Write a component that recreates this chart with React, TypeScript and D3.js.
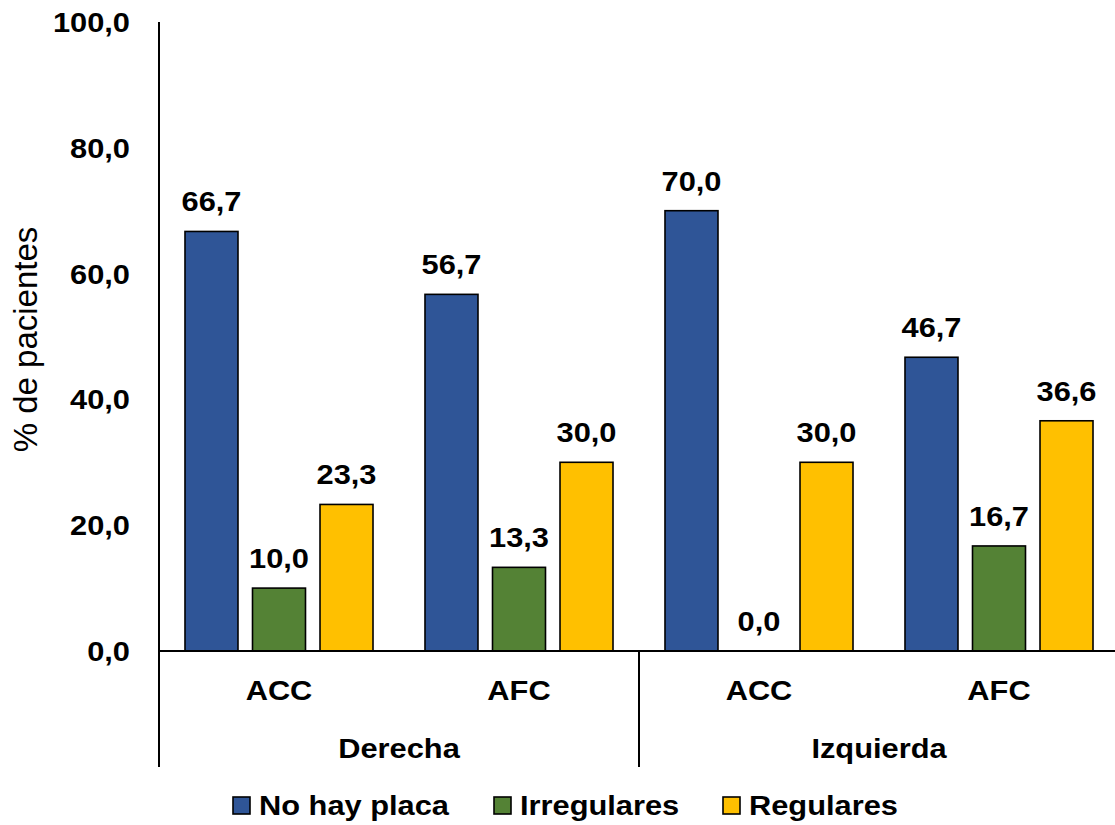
import React from "react";
import * as d3 from "d3";

// Chart data
const groups = ["Derecha", "Izquierda"];
const sites = ["ACC", "AFC"];
const seriesNames = ["No hay placa", "Irregulares", "Regulares"];
const noHayPlaca = [66.7, 56.7, 70.0, 46.7];
const irregulares = [10.0, 13.3, 0.0, 16.7];
const regulares = [23.3, 30.0, 30.0, 36.6];
const yTicks = [0, 20, 40, 60, 80, 100];

const seriesValues = [noHayPlaca, irregulares, regulares];
const colors = ["#2F5597", "#548235", "#FFC000"];

const W = 1115;
const H = 825;
const left = 159;
const right = 1119;
const top = 22;
const baseY = 651;
const bottomLine = 767;
const FONT = "Arial, 'Liberation Sans', sans-serif";
const SX = 1.1;

const fmt = (v: number) => v.toFixed(1).replace(".", ",");

function BText({ x, y, anchor = "middle", children }: { x: number; y: number; anchor?: string; children: React.ReactNode }) {
  return (
    <text
      transform={`translate(${x},${y}) scale(${SX},1)`}
      textAnchor={anchor as any}
      fontFamily={FONT}
      fontWeight="bold"
      fontSize={28}
      fill="#000"
    >
      {children}
    </text>
  );
}

export default function App() {
  const cats = groups.flatMap((g) => sites.map((s) => `${g}|${s}`));
  const x0 = d3.scaleBand<string>().domain(cats).range([left, right]).padding(0);
  const x1 = d3
    .scaleBand<string>()
    .domain(seriesNames)
    .range([0, x0.bandwidth()])
    .paddingInner(0.215)
    .paddingOuter(0.385);
  const y = d3.scaleLinear().domain([0, 100]).range([baseY, top]);
  const groupWidth = x0.bandwidth() * sites.length;

  const legendX = [233, 494, 723];

  return (
    <svg width={W} height={H} style={{ position: "absolute", left: 0, top: 0, background: "#fff" }}>
      {/* bars and value labels */}
      {cats.map((c, ci) => (
        <g key={c} transform={`translate(${x0(c)},0)`}>
          {seriesNames.map((s, si) => {
            const v = seriesValues[si][ci];
            const bx = x1(s)!;
            return (
              <g key={s}>
                {v > 0 && (
                  <rect
                    x={bx}
                    y={y(v)}
                    width={x1.bandwidth()}
                    height={baseY - y(v)}
                    fill={colors[si]}
                    stroke="#000"
                    strokeWidth={1.6}
                  />
                )}
                <BText x={bx + x1.bandwidth() / 2} y={y(v) - 20}>
                  {fmt(v)}
                </BText>
              </g>
            );
          })}
          <BText x={x0.bandwidth() / 2} y={700}>
            {c.split("|")[1]}
          </BText>
        </g>
      ))}

      {/* axes */}
      <line x1={left} x2={left} y1={top} y2={bottomLine} stroke="#000" strokeWidth={2} />
      <line x1={left} x2={right} y1={baseY} y2={baseY} stroke="#000" strokeWidth={2} />
      {groups.map((g, gi) => (
        <g key={g}>
          <line
            x1={left + groupWidth * (gi + 1)}
            x2={left + groupWidth * (gi + 1)}
            y1={baseY}
            y2={bottomLine}
            stroke="#000"
            strokeWidth={2}
          />
          <BText x={left + groupWidth * gi + groupWidth / 2} y={758}>
            {g}
          </BText>
        </g>
      ))}

      {/* y tick labels */}
      {yTicks.map((t) => (
        <BText key={t} x={130} y={y(t) + 10} anchor="end">
          {fmt(t)}
        </BText>
      ))}

      {/* y axis title */}
      <text
        transform={`translate(37,${(top + baseY) / 2 + 3}) rotate(-90)`}
        textAnchor="middle"
        fontFamily={FONT}
        fontSize={33}
        fill="#000"
      >
        % de pacientes
      </text>

      {/* legend */}
      {seriesNames.map((s, si) => (
        <g key={s}>
          <rect x={legendX[si]} y={797} width={17} height={17} fill={colors[si]} stroke="#000" strokeWidth={1.6} />
          <BText x={legendX[si] + 26} y={815} anchor="start">
            {s}
          </BText>
        </g>
      ))}
    </svg>
  );
}
